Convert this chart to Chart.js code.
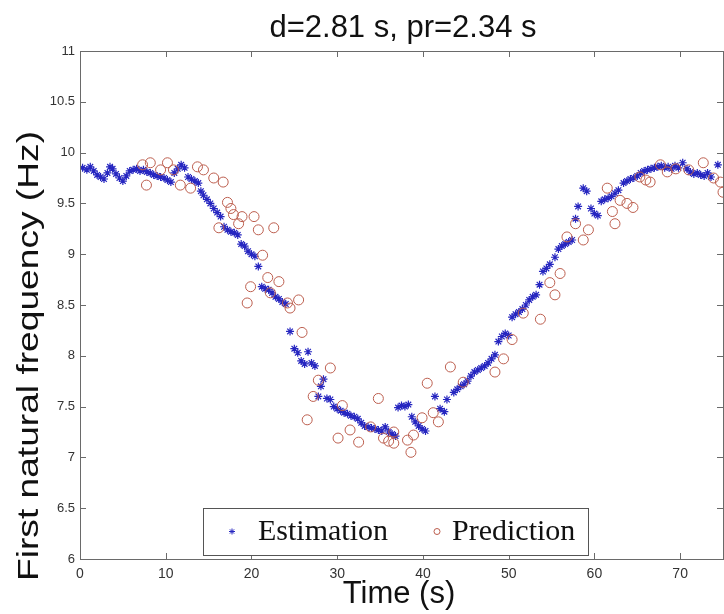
<!DOCTYPE html>
<html lang="en">
<head>
    <meta charset="UTF-8">
    <title>First natural frequency</title>
    <script src="https://cdn.jsdelivr.net/npm/chart.js"></script>
    <style>
        html, body {
            margin: 0;
            padding: 0;
            background-color: #ffffff;
            overflow: hidden;
        }
    </style>
</head>
<body>
    <canvas id="chart" width="724" height="614"></canvas>

    <script>
        // values
        const timeEst = [0.3, 0.8, 1.2, 1.6, 2.0, 2.4, 2.8, 3.2, 3.5, 3.8, 4.2, 4.6, 5.0, 5.4, 5.8, 6.2, 6.6, 7.0, 7.4, 7.8,
            8.2, 8.6, 9.0, 9.4, 9.8, 10.2, 10.6, 11.0, 11.4, 11.8, 12.2, 12.6, 13.0, 13.4, 13.8, 14.1, 14.4, 14.8, 15.2, 15.6,
            16.0, 16.4, 16.8, 17.2, 17.6, 18.0, 18.4, 18.8, 19.2, 19.6, 20.0, 20.4, 20.8, 21.2, 21.6, 22.0, 22.4, 22.8, 23.2, 23.6,
            24.0, 24.5, 25.0, 25.4, 25.8, 26.2, 26.6, 27.0, 27.4, 27.8, 28.1, 28.4, 28.8, 29.2, 29.6, 30.0, 30.4, 30.8, 31.2, 31.6,
            32.0, 32.4, 32.8, 33.2, 33.6, 34.0, 34.4, 34.8, 35.2, 35.6, 36.0, 36.4, 36.8, 37.1, 37.5, 37.9, 38.3, 38.7, 39.1, 39.5,
            39.9, 40.3, 41.4, 42.0, 42.5, 42.8, 43.6, 44.0, 44.4, 44.8, 45.2, 45.6, 46.0, 46.4, 46.8, 47.2, 47.6, 48.0, 48.4, 48.8,
            49.2, 49.6, 50.0, 50.4, 50.8, 51.2, 51.6, 52.0, 52.4, 52.8, 53.2, 53.6, 54.0, 54.4, 54.8, 55.4, 55.8, 56.2, 56.6, 57.0,
            57.4, 57.8, 58.1, 58.7, 59.1, 59.6, 60.0, 60.4, 60.8, 61.2, 61.6, 62.0, 62.4, 62.8, 63.4, 63.8, 64.2, 64.6, 65.0, 65.4,
            65.8, 66.2, 66.6, 67.0, 67.4, 67.8, 68.2, 68.6, 69.0, 69.4, 69.8, 70.3, 70.8, 71.2, 71.6, 72.0, 72.4, 72.8, 73.2, 73.6,
            74.4];
        const freqEst = [9.85, 9.83, 9.86, 9.82, 9.78, 9.76, 9.74, 9.80, 9.86, 9.84, 9.79, 9.75, 9.72, 9.77, 9.82, 9.83, 9.84, 9.82, 9.83, 9.81,
            9.80, 9.78, 9.77, 9.76, 9.75, 9.73, 9.71, 9.80, 9.84, 9.88, 9.85, 9.76, 9.74, 9.72, 9.70, 9.62, 9.58, 9.54, 9.50, 9.45,
            9.41, 9.37, 9.27, 9.24, 9.22, 9.21, 9.19, 9.10, 9.08, 9.03, 9.00, 8.98, 8.88, 8.68, 8.66, 8.65, 8.62, 8.58, 8.56, 8.53,
            8.51, 8.24, 8.07, 8.03, 7.95, 7.92, 8.04, 7.93, 7.90, 7.60, 7.70, 7.77, 7.58, 7.57, 7.50, 7.48, 7.46, 7.44, 7.43, 7.41,
            7.40, 7.38, 7.34, 7.31, 7.30, 7.29, 7.28, 7.27, 7.26, 7.30, 7.25, 7.23, 7.21, 7.49, 7.51, 7.50, 7.52, 7.40, 7.35, 7.31,
            7.28, 7.26, 7.60, 7.48, 7.45, 7.57, 7.64, 7.67, 7.70, 7.72, 7.75, 7.80, 7.84, 7.86, 7.88, 7.90, 7.93, 7.97, 8.01, 8.14,
            8.19, 8.22, 8.20, 8.38, 8.41, 8.43, 8.46, 8.50, 8.55, 8.58, 8.60, 8.70, 8.83, 8.86, 8.90, 8.97, 9.05, 9.08, 9.10, 9.12,
            9.14, 9.35, 9.47, 9.65, 9.62, 9.45, 9.40, 9.38, 9.52, 9.54, 9.55, 9.57, 9.60, 9.63, 9.70, 9.72, 9.74, 9.75, 9.77, 9.80,
            9.82, 9.83, 9.84, 9.85, 9.86, 9.87, 9.85, 9.86, 9.84, 9.87, 9.85, 9.90, 9.84, 9.81, 9.79, 9.80, 9.78, 9.77, 9.80, 9.76,
            9.88];

        const timePred = [7.3, 7.75, 8.2, 9.4, 10.2, 10.9, 11.7, 12.9, 13.7, 14.4, 15.6, 16.2, 16.7, 17.2, 17.6, 17.9, 18.5, 18.9, 19.5, 19.9,
            20.3, 20.8, 21.3, 21.9, 22.2, 22.6, 23.2, 24.2, 24.5, 25.5, 25.9, 26.5, 27.2, 27.8, 29.2, 30.1, 30.6, 31.5, 32.5, 33.9,
            34.8, 35.4, 36.0, 36.6, 36.6, 38.2, 38.6, 38.9, 39.9, 40.5, 41.2, 41.8, 43.2, 44.7, 48.4, 49.4, 50.4, 51.7, 53.7, 54.8,
            55.4, 56.0, 56.8, 57.8, 58.7, 59.3, 61.5, 62.1, 62.4, 63.0, 63.8, 64.5, 65.3, 66.0, 66.5, 67.7, 68.5, 69.5, 71.0, 72.7,
            73.9, 74.7, 75.0];
        const freqPred = [9.88, 9.68, 9.90, 9.83, 9.90, 9.83, 9.68, 9.65, 9.86, 9.83, 9.75, 9.26, 9.71, 9.51, 9.45, 9.39, 9.30, 9.37, 8.52, 8.68,
            9.37, 9.24, 8.99, 8.77, 8.62, 9.26, 8.73, 8.52, 8.47, 8.55, 8.23, 7.37, 7.60, 7.76, 7.88, 7.19, 7.51, 7.27, 7.15, 7.30,
            7.58, 7.19, 7.16, 7.14, 7.25, 7.17, 7.05, 7.22, 7.39, 7.73, 7.44, 7.35, 7.89, 7.74, 7.84, 7.97, 8.16, 8.42, 8.36, 8.72,
            8.60, 8.81, 9.17, 9.30, 9.14, 9.24, 9.65, 9.42, 9.30, 9.53, 9.50, 9.46, 9.76, 9.73, 9.71, 9.88, 9.81, 9.84, 9.83, 9.90,
            9.75, 9.71, 9.61];

        const xTicks = [0, 10, 20, 30, 40, 50, 60, 70];
        const xTickLabels = ['0', '10', '20', '30', '40', '50', '60', '70'];
        const yTicks = [6, 6.5, 7, 7.5, 8, 8.5, 9, 9.5, 10, 10.5, 11];
        const yTickLabels = ['6', '6.5', '7', '7.5', '8', '8.5', '9', '9.5', '10', '10.5', '11'];

        const titleText = 'd=2.81 s, pr=2.34 s';
        const xTitle = 'Time (s)';
        const yTitle = 'First natural frequency (Hz)';
        const seriesNames = ['Estimation', 'Prediction'];

        const blue = '#2626c0';
        const red = '#bc5e4e';
        const axisColor = '#6a6a6a';
        const sans = '"Liberation Sans", Arial, sans-serif';

        function drawStar(ctx, x, y, r) {
            ctx.beginPath();
            for (let k = 0; k < 4; k++) {
                const a = k * Math.PI / 4;
                ctx.moveTo(x - r * Math.cos(a), y - r * Math.sin(a));
                ctx.lineTo(x + r * Math.cos(a), y + r * Math.sin(a));
            }
            ctx.stroke();
        }

        // MATLAB style box, inward ticks, titles and legend
        const matlabFrame = {
            id: 'matlabFrame',
            afterDatasetsDraw(chart) {
                const ctx = chart.ctx;
                const a = chart.chartArea;
                const xs = chart.scales.x;
                const ys = chart.scales.y;
                ctx.save();
                ctx.strokeStyle = axisColor;
                ctx.lineWidth = 1;
                ctx.strokeRect(a.left + 0.5, a.top + 0.5, a.right - a.left, a.bottom - a.top);
                ctx.beginPath();
                xTicks.forEach(v => {
                    const px = Math.round(xs.getPixelForValue(v)) + 0.5;
                    ctx.moveTo(px, a.bottom);
                    ctx.lineTo(px, a.bottom - 6);
                    ctx.moveTo(px, a.top);
                    ctx.lineTo(px, a.top + 6);
                });
                yTicks.forEach(v => {
                    const py = Math.round(ys.getPixelForValue(v)) + 0.5;
                    ctx.moveTo(a.left, py);
                    ctx.lineTo(a.left + 6, py);
                    ctx.moveTo(a.right, py);
                    ctx.lineTo(a.right - 6, py);
                });
                ctx.stroke();
                ctx.restore();
            },
            afterDraw(chart) {
                const ctx = chart.ctx;
                const cx = 401;
                ctx.save();
                ctx.fillStyle = '#111';

                // title
                ctx.font = '31px ' + sans;
                ctx.textAlign = 'center';
                ctx.textBaseline = 'alphabetic';
                ctx.fillText(titleText, cx + 2, 37);

                // x title
                ctx.font = '31px ' + sans;
                ctx.fillText(xTitle, cx - 2, 603);

                // y title
                ctx.save();
                ctx.translate(38, 356);
                ctx.rotate(-Math.PI / 2);
                ctx.font = '30px ' + sans;
                const w = ctx.measureText(yTitle).width;
                ctx.scale(450 / w, 1);
                ctx.fillText(yTitle, 0, 0);
                ctx.restore();

                // legend
                const lx = 203, ly = 508, lw = 385, lh = 47;
                ctx.fillStyle = '#fff';
                ctx.fillRect(lx, ly, lw, lh);
                ctx.strokeStyle = '#555';
                ctx.lineWidth = 1;
                ctx.strokeRect(lx + 0.5, ly + 0.5, lw, lh);
                const my = ly + lh / 2;
                ctx.strokeStyle = blue;
                drawStar(ctx, 232, my, 3);
                ctx.strokeStyle = red;
                ctx.beginPath();
                ctx.arc(437, my, 3, 0, Math.PI * 2);
                ctx.stroke();
                ctx.fillStyle = '#111';
                ctx.font = '30px "Liberation Serif", "Times New Roman", serif';
                ctx.textAlign = 'left';
                ctx.textBaseline = 'middle';
                ctx.fillText(seriesNames[0], 258, my + 1);
                ctx.fillText(seriesNames[1], 452, my + 1);
                ctx.restore();
            }
        };

        const estPoints = timeEst.map((t, i) => ({ x: t, y: freqEst[i] }));
        const predPoints = timePred.map((t, i) => ({ x: t, y: freqPred[i] }));

        const ctx = document.getElementById('chart').getContext('2d');
        const chart = new Chart(ctx, {
            type: 'scatter',
            data: {
                datasets: [{
                    label: seriesNames[0],
                    data: estPoints,
                    pointStyle: 'star',
                    pointRadius: 4,
                    borderColor: blue,
                    borderWidth: 1.2,
                    backgroundColor: blue,
                    order: 1
                }, {
                    label: seriesNames[1],
                    data: predPoints,
                    pointStyle: 'circle',
                    pointRadius: 5,
                    borderColor: red,
                    borderWidth: 1,
                    backgroundColor: 'rgba(0,0,0,0)',
                    order: 0
                }]
            },
            options: {
                responsive: false,
                animation: false,
                events: [],
                layout: { autoPadding: false, padding: { top: 51, right: 1, left: 0, bottom: 0 } },
                plugins: {
                    legend: { display: false },
                    title: { display: false },
                    tooltip: { enabled: false }
                },
                scales: {
                    x: {
                        type: 'linear',
                        min: 0,
                        max: 75,
                        afterBuildTicks: s => { s.ticks = xTicks.map(v => ({ value: v })); },
                        afterFit: s => { s.height = 55; s.paddingLeft = 0; s.paddingRight = 0; },
                        grid: { display: false, drawTicks: false },
                        border: { display: false },
                        ticks: {
                            padding: 7,
                            color: '#333',
                            font: { family: sans, size: 14 },
                            maxRotation: 0,
                            callback: v => xTickLabels[xTicks.indexOf(v)]
                        }
                    },
                    y: {
                        type: 'linear',
                        min: 6,
                        max: 11,
                        afterBuildTicks: s => { s.ticks = yTicks.map(v => ({ value: v })); },
                        afterFit: s => { s.width = 80; s.paddingTop = 0; s.paddingBottom = 0; },
                        grid: { display: false, drawTicks: false },
                        border: { display: false },
                        ticks: {
                            padding: 5,
                            color: '#333',
                            font: { family: sans, size: 13 },
                            callback: v => yTickLabels[yTicks.indexOf(v)]
                        }
                    }
                }
            },
            plugins: [matlabFrame]
        });
    </script>
</body>
</html>
